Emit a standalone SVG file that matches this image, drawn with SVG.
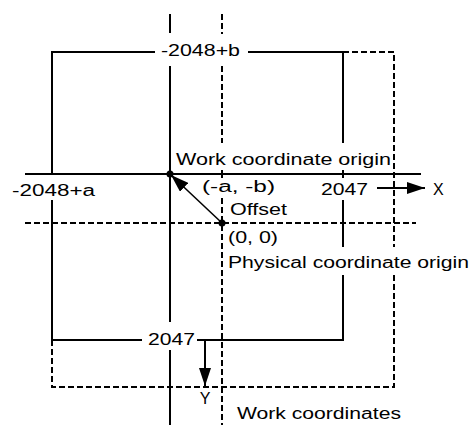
<svg xmlns="http://www.w3.org/2000/svg" width="473" height="425" viewBox="0 0 473 425">
<style>
.s{stroke:#000;stroke-width:2;fill:none}
.d{stroke:#000;stroke-width:2;fill:none;stroke-dasharray:6 3}
.t{stroke:#000;stroke-width:1.5;fill:none}
text{font-family:"Liberation Sans",Arial,sans-serif;font-size:16px;fill:#000}
</style>
<defs>
<marker id="ah" viewBox="0 0 18 12" refX="18" refY="6" markerWidth="18" markerHeight="12" markerUnits="userSpaceOnUse" orient="auto">
<path d="M0,0 L18,6 L0,12 z" fill="#000"/>
</marker>
</defs>
<rect width="473" height="425" fill="#fff"/>
<g id="connectors">
<path class="s" d="M170,14V33 M170,66V322 M170,350V425"/>
<path class="s" d="M25,174H421"/>
<path class="s" d="M155,52H52V174 M248,52H343V143 M343,170V178 M343,200V247 M343,275V340H197 M142,340H52V200"/>
<path class="d" d="M343,52H394V247 M394,275V387H52V340"/>
<path class="s" d="M222,14V20 M222,23V29 M222,32V34 M222,66V72 M222,75V81 M222,84V90 M222,93V99 M222,102V108 M222,111V117 M222,120V126 M222,129V135 M222,138V143 M222,170V178 M222,198V204 M222,207V213 M222,216V222"/>
<path class="d" d="M222,225V425"/>
<path class="d" d="M25,223H416"/>
<line class="t" x1="222" y1="223" x2="171" y2="175" marker-end="url(#ah)"/>
<line class="s" x1="377" y1="188" x2="425" y2="188" marker-end="url(#ah)"/>
<line class="s" x1="205" y1="340" x2="205" y2="386" marker-end="url(#ah)"/>
</g>
<g id="work-origin">
<circle cx="170" cy="174" r="3.5" fill="#000"/>
<text x="176" y="165" textLength="215" lengthAdjust="spacingAndGlyphs">Work coordinate origin</text>
</g>
<g id="physical-origin">
<circle cx="222" cy="223" r="3.5" fill="#000"/>
<text x="228" y="243" textLength="50" lengthAdjust="spacingAndGlyphs">(0, 0)</text>
<text x="228" y="268" textLength="241" lengthAdjust="spacingAndGlyphs">Physical coordinate origin</text>
</g>
<g id="offset">
<text x="202" y="192" textLength="73" lengthAdjust="spacingAndGlyphs">(-a, -b)</text>
<text x="230" y="215" textLength="57" lengthAdjust="spacingAndGlyphs">Offset</text>
</g>
<g id="limits">
<text x="161" y="56" textLength="79" lengthAdjust="spacingAndGlyphs">-2048+b</text>
<text x="12" y="196" textLength="83" lengthAdjust="spacingAndGlyphs">-2048+a</text>
<text x="321" y="195" textLength="47" lengthAdjust="spacingAndGlyphs">2047</text>
<text x="148" y="345" textLength="47" lengthAdjust="spacingAndGlyphs">2047</text>
</g>
<g id="axis-labels">
<text x="433" y="195">X</text>
<text x="205" y="404" text-anchor="middle">Y</text>
<text x="237" y="419" textLength="164" lengthAdjust="spacingAndGlyphs">Work coordinates</text>
</g>
</svg>
